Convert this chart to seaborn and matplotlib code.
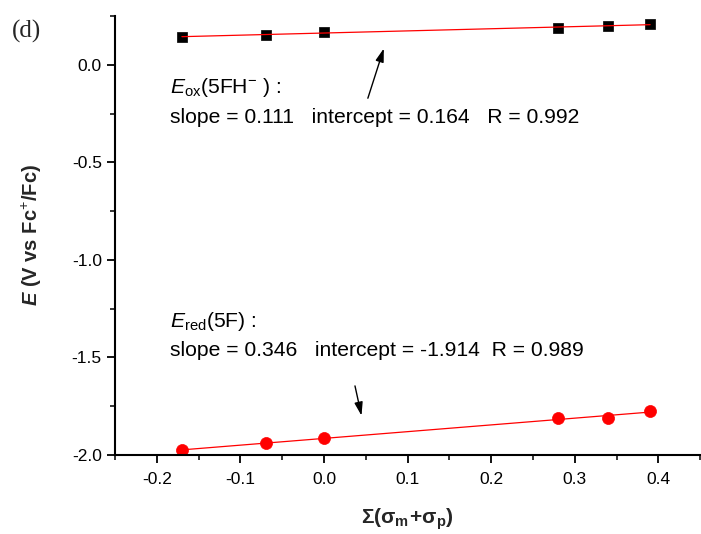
import numpy as np
import pandas as pd
import matplotlib
matplotlib.use("Agg")
import matplotlib.pyplot as plt
import seaborn as sns
from matplotlib.ticker import MultipleLocator

# ---- data ----
sigma = [-0.17, -0.07, 0.0, 0.28, 0.34, 0.39]
E_ox = [0.142, 0.155, 0.167, 0.189, 0.200, 0.208]
E_red = [-1.974, -1.940, -1.914, -1.810, -1.811, -1.774]
x_ticks = [-0.2, -0.1, 0.0, 0.1, 0.2, 0.3, 0.4]
y_ticks = [0.0, -0.5, -1.0, -1.5, -2.0]

df_ox = pd.DataFrame({"sigma": sigma, "E": E_ox})
df_red = pd.DataFrame({"sigma": sigma, "E": E_red})

sns.set_style("ticks")
plt.rcParams["font.family"] = ["Liberation Sans", "DejaVu Sans"]
plt.rcParams["mathtext.fontset"] = "custom"
plt.rcParams["mathtext.rm"] = "Liberation Sans"
plt.rcParams["mathtext.it"] = "Liberation Sans:italic"
plt.rcParams["mathtext.bf"] = "Liberation Sans:bold"
plt.rcParams["mathtext.bfit"] = "Liberation Sans:italic:bold"

fig = plt.figure(figsize=(7.01, 5.34), dpi=100)
ax = fig.add_axes([115 / 701, 1 - 455 / 534, 1 - 115 / 701 - 0.001, (455 - 16) / 534])

sns.regplot(data=df_ox, x="sigma", y="E", scatter=False, ci=None, ax=ax,
            color="red", line_kws={"lw": 0.9, "zorder": 3})
sns.regplot(data=df_red, x="sigma", y="E", scatter=False, ci=None, ax=ax,
            color="red", line_kws={"lw": 0.9, "zorder": 3})
sns.scatterplot(data=df_ox, x="sigma", y="E", ax=ax, marker="s", s=50,
                color="black", edgecolor="black", linewidth=0.5, zorder=2)
sns.scatterplot(data=df_red, x="sigma", y="E", ax=ax, marker="o", s=75,
                color="red", edgecolor="red", linewidth=0.5, zorder=2)

ax.set_xlim(-0.25, 0.45)
ax.set_ylim(-2.0, 0.25)
ax.set_xticks(x_ticks)
ax.set_yticks(y_ticks)
ax.set_xticklabels([f"{v:.1f}" for v in x_ticks])
ax.set_yticklabels([f"{v:.1f}" for v in y_ticks])
ax.xaxis.set_minor_locator(MultipleLocator(0.05))
ax.yaxis.set_minor_locator(MultipleLocator(0.25))
ax.tick_params(axis="both", which="major", length=6, width=1.3, labelsize=12.5,
               direction="out", color="black", labelcolor="black")
ax.tick_params(axis="x", which="major", pad=6)
ax.tick_params(axis="both", which="minor", length=3.5, width=1.3, direction="out")
for side in ["top", "right"]:
    ax.spines[side].set_visible(False)
for side in ["left", "bottom"]:
    ax.spines[side].set_linewidth(1.5)
    ax.spines[side].set_color("black")

ax.set_xlabel(r"$\mathbf{\Sigma(\sigma_{m}\!+\!\sigma_{p})}$", fontsize=15, labelpad=14)
ax.set_ylabel(r"$\mathbfit{E}$ (V vs Fc$^{+}$/Fc)", fontsize=14.5, fontweight="bold", labelpad=20)

txt_kw = dict(fontsize=15.2, color="black", va="center", ha="left")
ax.text(-0.184, -0.118, r"$\mathit{E}_{\mathrm{ox}}$(5FH$^{-}$ ) :", **txt_kw)
ax.text(-0.184, -0.272, "slope = 0.111   intercept = 0.164   R = 0.992", **txt_kw)
ax.text(-0.184, -1.317, r"$\mathit{E}_{\mathrm{red}}$(5F) :", **txt_kw)
ax.text(-0.184, -1.465, "slope = 0.346   intercept = -1.914  R = 0.989", **txt_kw)

arrow_kw = dict(arrowstyle="-|>,head_length=0.8,head_width=0.25", color="black", lw=1.0)
ax.annotate("", xy=(0.0725, 0.097), xytext=(0.0514, -0.185), arrowprops=arrow_kw)
ax.annotate("", xy=(0.0455, -1.812), xytext=(0.0363, -1.632), arrowprops=arrow_kw)

fig.text(12 / 701, 1 - 31 / 534, "(d)", fontsize=18, family="Liberation Serif",
         va="center", ha="left")

fig.savefig("out.png", dpi=100)
